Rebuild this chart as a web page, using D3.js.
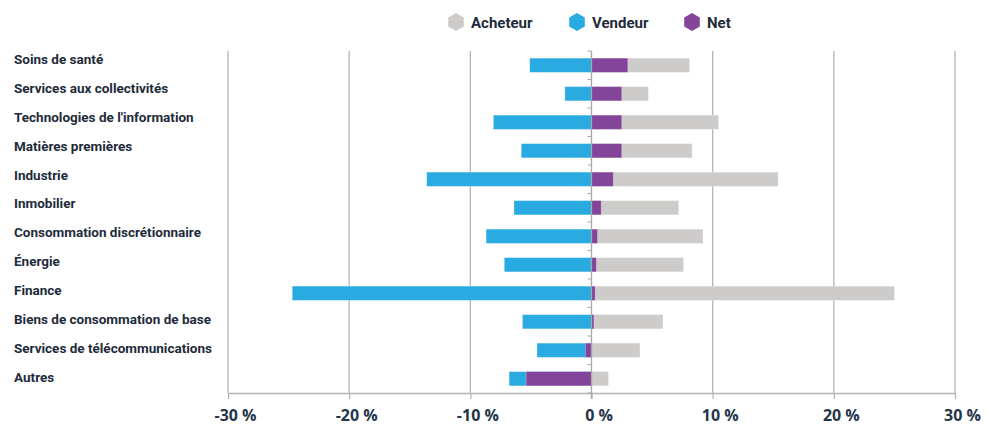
<!DOCTYPE html>
<html lang="fr">
<head>
<meta charset="UTF-8">
<title>Acheteur / Vendeur / Net</title>
<script src="https://d3js.org/d3.v7.min.js"></script>
<style>
  body { margin: 0; background: #fff; }
  text { font-family: Roboto, "Open Sans", sans-serif; fill: #1e2b3a; }
</style>
</head>
<body>
<script>
// categories, top to bottom
var categories = [
    "Soins de santé",
    "Services aux collectivités",
    "Technologies de l'information",
    "Matières premières",
    "Industrie",
    "Inmobilier",
    "Consommation discrétionnaire",
    "Énergie",
    "Finance",
    "Biens de consommation de base",
    "Services de télécommunications",
    "Autres"
];
// values in %
var acheteur = [8.1, 4.7, 10.5, 8.3, 15.4, 7.2, 9.2, 7.6, 25.0, 5.9, 4.0, 1.4];
var vendeur = [-5.1, -2.2, -8.1, -5.8, -13.6, -6.4, -8.7, -7.2, -24.7, -5.7, -4.5, -6.8];
var net = [3.0, 2.5, 2.5, 2.5, 1.8, 0.8, 0.5, 0.4, 0.3, 0.2, -0.5, -5.4];
var xTicks = [-30, -20, -10, 0, 10, 20, 30];
var series = ["Acheteur", "Vendeur", "Net"];
var colors = { "Acheteur": "#cdcccb", "Vendeur": "#29abe2", "Net": "#83449a" };

var width = 988, height = 425;
var plotTop = 51, plotBottom = 393, plotLeft = 228, plotRight = 955;

var svg = d3.select("body").append("svg")
    .attr("width", width)
    .attr("height", height);

var x = d3.scaleLinear().domain([-30, 30]).range([plotLeft, plotRight]);
var y = d3.scaleBand().domain(categories).range([plotTop, plotBottom])
    .paddingInner(0.5).paddingOuter(0.25);
// labels sit on their own slightly looser grid (baselines)
var yLabel = d3.scalePoint().domain(categories).range([64, 381.7]);

// vertical grid lines
svg.append("g").selectAll("line")
    .data(xTicks.filter(function (d) { return d !== 0; }))
    .enter().append("line")
    .attr("x1", function (d) { return x(d); })
    .attr("x2", function (d) { return x(d); })
    .attr("y1", plotTop)
    .attr("y2", plotBottom)
    .attr("stroke", "#b5b5b5")
    .attr("stroke-width", 1.3);

// bottom axis
var xAxis = svg.append("g")
    .attr("transform", "translate(0," + plotBottom + ")")
    .call(d3.axisBottom(x).tickValues(xTicks).tickSize(6).tickSizeOuter(0)
        .tickFormat(function (d) { return d + " %"; }));
xAxis.select(".domain").attr("stroke", "#b5b5b5").attr("stroke-width", 1.3);
xAxis.selectAll(".tick line").attr("stroke", "#b5b5b5").attr("stroke-width", 1.3);
xAxis.selectAll(".tick text")
    .attr("y", 16.5)
    .attr("dx", 7)
    .style("font-family", "'Open Sans', sans-serif")
    .style("font-weight", 700)
    .style("font-size", "16px")
    .style("fill", "#24364a");

// bars
function drawBars(values, name) {
    svg.append("g").selectAll("rect")
        .data(values)
        .enter().append("rect")
        .attr("x", function (d) { return x(Math.min(0, d)); })
        .attr("width", function (d) { return Math.abs(x(d) - x(0)); })
        .attr("y", function (d, i) { return y(categories[i]); })
        .attr("height", y.bandwidth())
        .attr("fill", colors[name])
        .attr("stroke", "#ffffff")
        .attr("stroke-opacity", 0.35)
        .attr("stroke-width", 0.8);
}
drawBars(acheteur, "Acheteur");
drawBars(vendeur, "Vendeur");
drawBars(net, "Net");

// zero axis with small ticks at the band edges
var edges = categories.map(function (c) { return y(c) - y.step() * y.paddingInner() / 2; });
edges.push(plotBottom);
var zero = svg.append("g");
zero.append("line")
    .attr("x1", x(0)).attr("x2", x(0))
    .attr("y1", plotTop).attr("y2", plotBottom + 6)
    .attr("stroke", "#a8a8a8")
    .attr("stroke-width", 1.3);
zero.selectAll("line.t")
    .data(edges)
    .enter().append("line")
    .attr("class", "t")
    .attr("x1", x(0) - 4).attr("x2", x(0))
    .attr("y1", function (d) { return d; })
    .attr("y2", function (d) { return d; })
    .attr("stroke", "#a8a8a8")
    .attr("stroke-width", 1);

// category labels
svg.append("g").selectAll("text")
    .data(categories)
    .enter().append("text")
    .attr("x", 14)
    .attr("y", function (d) { return yLabel(d); })
    .style("font-size", "13.5px")
    .style("font-weight", 700)
    .text(function (d) { return d; });

// legend
var legendX = [456, 577, 692];
var hex = d3.range(6).map(function (k) {
    var a = Math.PI / 3 * k - Math.PI / 2;
    return [Math.cos(a) * 9, Math.sin(a) * 9];
});
var legend = svg.append("g").selectAll("g")
    .data(series)
    .enter().append("g")
    .attr("transform", function (d, i) { return "translate(" + legendX[i] + ",22)"; });
legend.append("path")
    .attr("d", "M" + hex.join("L") + "Z")
    .attr("fill", function (d) { return colors[d]; });
legend.append("text")
    .attr("x", 15)
    .attr("y", 5.5)
    .style("font-size", "15px")
    .style("font-weight", 700)
    .text(function (d) { return d; });
</script>
</body>
</html>
